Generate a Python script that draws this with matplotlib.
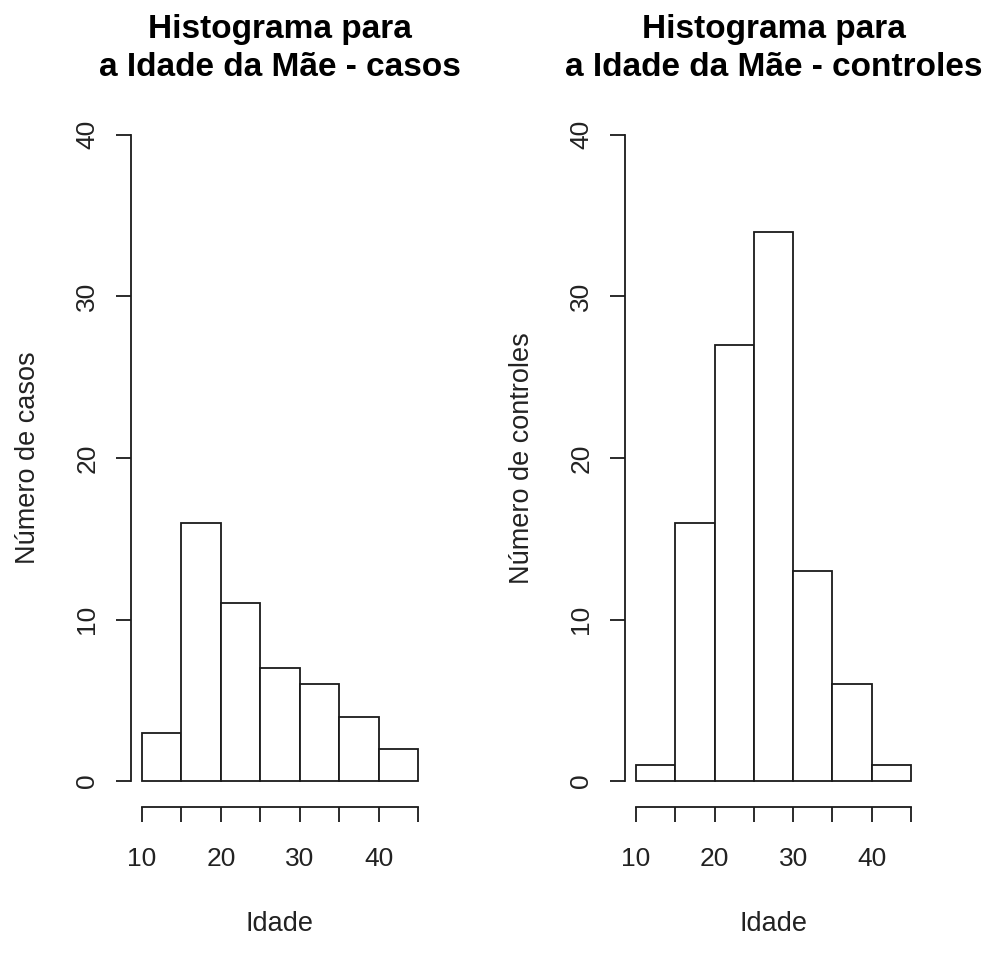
import matplotlib
matplotlib.use("Agg")
import matplotlib.pyplot as plt
import numpy as np

plt.rcParams['font.family'] = ['Liberation Sans', 'DejaVu Sans']

bin_edges = [10, 15, 20, 25, 30, 35, 40, 45]
casos = [3, 16, 11, 7, 6, 4, 2]
controles = [1, 16, 27, 34, 13, 6, 1]
xticks = [10, 20, 30, 40]
yticks = [0, 10, 20, 30, 40]
titles = ["Histograma para\na Idade da Mãe - casos",
          "Histograma para\na Idade da Mãe - controles"]
ylabels = ["Número de casos", "Número de controles"]
xlabel = "Idade"

W, H = 992, 965
fig = plt.figure(figsize=(W / 100, H / 100), dpi=100)

lefts = [131, 625]
bottom_px = 807
top_px = 109
widths = [298, 297]

lw = 1.3
col = '#1a1a1a'
tcol = '#222222'

for i, (counts, title, ylab) in enumerate(zip([casos, controles], titles, ylabels)):
    ax = fig.add_axes([lefts[i] / W, (H - bottom_px) / H, widths[i] / W, (bottom_px - top_px) / H])
    edges = np.array(bin_edges)
    ax.bar(edges[:-1], counts, width=np.diff(edges), align='edge',
           facecolor='white', edgecolor=col, linewidth=lw)
    ax.set_xlim(10 - 0.04 * 35, 45 + 0.04 * 35)
    ax.set_ylim(-0.04 * 40, 40 + 0.04 * 40)
    for s in ['top', 'right']:
        ax.spines[s].set_visible(False)
    ax.spines['left'].set_bounds(0, 40)
    ax.spines['bottom'].set_bounds(10, 45)
    for s in ['left', 'bottom']:
        ax.spines[s].set_linewidth(lw)
        ax.spines[s].set_color(col)
    ax.set_xticks(bin_edges)
    ax.set_xticklabels([str(t) if t in xticks else '' for t in bin_edges])
    ax.set_yticks(yticks)
    ax.set_yticklabels([str(t) for t in yticks], rotation=90, va='center')
    ax.tick_params(axis='both', direction='out', length=10.8, width=lw, color=col,
                   labelsize=19, labelcolor=tcol)
    ax.tick_params(axis='x', pad=18)
    ax.tick_params(axis='y', pad=12)
    ax.set_xlabel(xlabel, fontsize=19.5, color=tcol, labelpad=29)
    ax.set_ylabel(ylab, fontsize=19.5, color=tcol, labelpad=25)
    ax.set_title(title, fontsize=24, fontweight='bold', pad=24, linespacing=1.27)

fig.savefig("out.png", dpi=100, facecolor='white')
